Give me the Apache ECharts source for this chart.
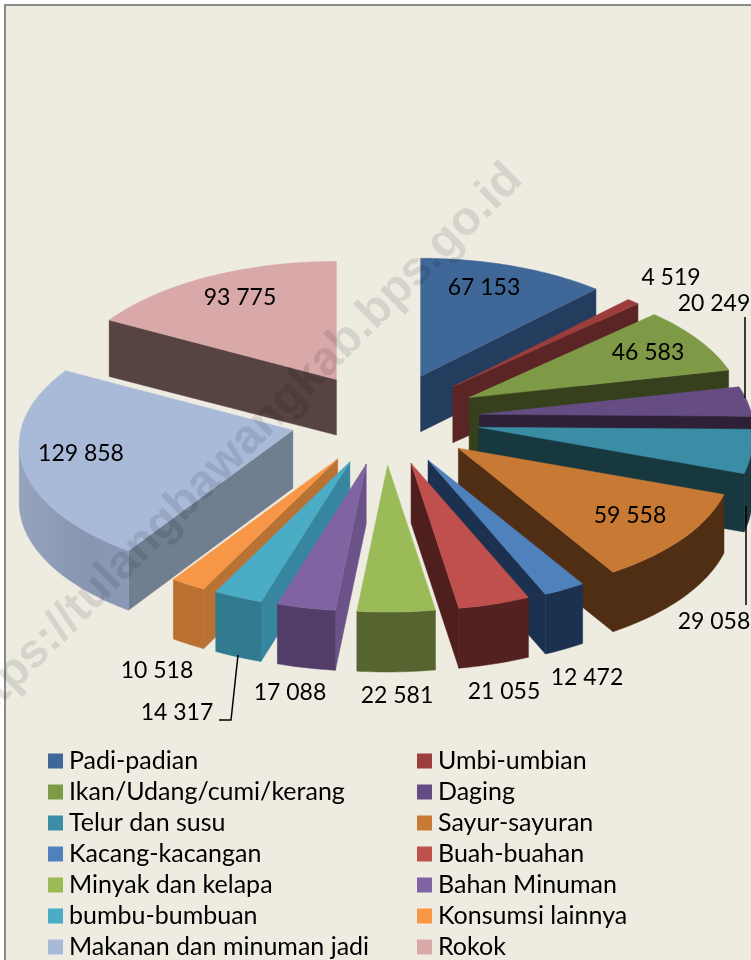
<!DOCTYPE html>
<html>
<head>
<meta charset="utf-8">
<style>
  html, body { margin: 0; padding: 0; background: #fff; }
  #chart { width: 751px; height: 960px; }
</style>
<script src="https://cdn.jsdelivr.net/npm/echarts@6/dist/echarts.min.js"></script>
</head>
<body>
<div id="chart"></div>
<script>
const categories = [
  'Padi-padian', 'Umbi-umbian', 'Ikan/Udang/cumi/kerang', 'Daging',
  'Telur dan susu', 'Sayur-sayuran', 'Kacang-kacangan', 'Buah-buahan',
  'Minyak dan kelapa', 'Bahan Minuman', 'bumbu-bumbuan', 'Konsumsi lainnya',
  'Makanan dan minuman jadi', 'Rokok'
]
const values = [67153, 4519, 46583, 20249, 29058, 59558, 12472, 21055, 22581, 17088, 14317, 10518, 129858, 93775]

const topColors = ['#3f6797', '#9c3d3c', '#7e9a47', '#654d83', '#3b8ca5', '#c87a34', '#4f81bd', '#c0504d', '#9bbb59', '#8064a2', '#4bacc6', '#f79646', '#a9b9d8', '#d9a8a8']
const wallColors = ['#233d5f', '#5a2524', '#37401c', '#2e2037', '#183840', '#502e14', '#1c3150', '#4f1f1e', '#566530', '#6b5389', '#37869f', '#b87233', '#707e90', '#574341']
const rimColors = ['#233d5f', '#5a2524', '#37401c', '#2e2037', '#183840', '#502e14', '#1c3150', '#532120', '#566530', '#513d68', '#327a90', '#bb7032', '#8f9dba', '#574341']
// label centres
const labelCenters = [[484, 288], [671, 278], [648, 353], [714, 304], [714, 622], [630, 516], [587, 678], [504, 692], [397, 696], [290, 693], [177, 713], [157, 671], [81, 454], [240, 298]]
const leaderLines = [
  [[745, 317], [745, 398]],
  [[746, 506], [746, 605]],
  [[238, 655], [231, 720], [219, 720]]
]

const fontFamily = 'Lato'
const total = values.reduce((a, b) => a + b, 0)
const cx = 385
const cy = 419
const explodeX = 95
const explodeY = 46
const radiusX = 272
const radiusY = 131
const perspective = 0.1095
const depth = 57.5
const rad = d => d * Math.PI / 180

const starts = []
values.reduce((acc, v) => {
  starts.push(acc)
  return acc + v
}, 0)

function sliceShapes(i) {
  const a0 = starts[i] / total * 360
  const a1 = (starts[i] + values[i]) / total * 360
  const mid = rad((a0 + a1) / 2)
  const apex = [cx + explodeX * Math.sin(mid), cy - explodeY * Math.cos(mid)]
  const onRim = deg => {
    const X = Math.sin(rad(deg))
    const Y = Math.cos(rad(deg))
    const s = 1 / (1 + perspective * Y)
    return [apex[0] + radiusX * s * X, apex[1] - radiusY * s * Y]
  }
  const down = (p, deg) => [p[0], p[1] + depth / (1 + 0.04 * Math.cos(rad(deg)))]
  const rim = []
  const n = Math.max(2, Math.ceil(a1 - a0))
  for (let k = 0; k <= n; k++) {
    const deg = a0 + (a1 - a0) * k / n
    rim.push({ deg, p: onRim(deg) })
  }
  const first = rim[0]
  const last = rim[rim.length - 1]
  const shapes = []
  const wall = (p, deg, q, qDeg) => ({
    type: 'polygon',
    shape: { points: [p, q, down(q, qDeg), down(p, deg)] },
    style: { fill: wallColors[i], stroke: wallColors[i], lineWidth: 0.5 }
  })
  // faces whose edge runs right to left on screen look at the viewer
  if (first.p[0] < apex[0]) shapes.push(wall(apex, (a0 + a1) / 2, first.p, first.deg))
  if (last.p[0] > apex[0]) shapes.push(wall(apex, (a0 + a1) / 2, last.p, last.deg))
  const visible = rim.filter((r, k) => (k < n && rim[k + 1].p[0] < r.p[0]) || (k === n && rim[k - 1].p[0] > r.p[0]))
  if (visible.length > 1) {
    const upper = visible.map(r => r.p)
    const lower = visible.map(r => down(r.p, r.deg)).reverse()
    // the big slice has a soft shine along its rim
    const fill = i === 12
      ? new echarts.graphic.LinearGradient(0, 0, 1, 0, [
        { offset: 0, color: '#95a3bf' },
        { offset: 0.6, color: '#8896b1' },
        { offset: 1, color: '#8c99b6' }
      ])
      : rimColors[i]
    shapes.push({
      type: 'polygon',
      shape: { points: upper.concat(lower) },
      style: { fill, stroke: rimColors[i], lineWidth: 0.5 }
    })
  }
  shapes.push({
    type: 'polygon',
    shape: { points: [apex].concat(rim.map(r => r.p)) },
    style: { fill: topColors[i], stroke: topColors[i], lineWidth: 0.5 }
  })
  return { apex, shapes }
}

const formatValue = v => String(v).replace(/\B(?=(\d{3})+$)/g, ' ')

const sliceSeries = categories.map((name, i) => ({
  type: 'custom',
  name,
  coordinateSystem: 'none',
  // back slices first, the front ones cover their walls
  z: Math.round(sliceShapes(i).apex[1] - 300),
  silent: true,
  color: topColors[i],
  itemStyle: { color: topColors[i] },
  data: [[values[i]]],
  renderItem: () => ({ type: 'group', children: sliceShapes(i).shapes })
}))

const labelSeries = {
  type: 'custom',
  name: 'labels',
  coordinateSystem: 'none',
  z: 500,
  silent: true,
  data: values.map((v, i) => [v, i]),
  renderItem(params, api) {
    const i = api.value(1)
    return {
      type: 'text',
      x: labelCenters[i][0],
      y: labelCenters[i][1],
      style: {
        text: formatValue(api.value(0)),
        fill: '#000',
        font: '23px ' + fontFamily,
        align: 'center',
        verticalAlign: 'middle'
      }
    }
  }
}

const legendBase = {
  orient: 'vertical',
  top: 747,
  height: 300,
  itemWidth: 15,
  itemHeight: 15,
  itemGap: 3,
  icon: 'rect',
  selectedMode: false,
  padding: 0,
  textStyle: { color: '#000', fontFamily, fontSize: 25, padding: [0, 0, 0, 1], height: 28, lineHeight: 28 }
}

const chart = echarts.init(document.getElementById('chart'), null, { renderer: 'canvas' })
chart.setOption({
  animation: false,
  legend: [
    Object.assign({}, legendBase, { left: 48, data: categories.filter((c, i) => i % 2 === 0) }),
    Object.assign({}, legendBase, { left: 417, data: categories.filter((c, i) => i % 2 === 1) })
  ],
  graphic: [
    {
      type: 'rect',
      z: -10,
      silent: true,
      shape: { x: 5, y: 5, width: 800, height: 1000 },
      style: { fill: '#eeece1', stroke: '#8a8a8a', lineWidth: 2 }
    },
    ...leaderLines.map(points => ({
      type: 'polyline',
      z: 400,
      silent: true,
      shape: { points },
      style: { stroke: '#000', lineWidth: 1.5, fill: null }
    })),
    {
      type: 'text',
      z: 1000,
      silent: true,
      x: 238,
      y: 449,
      rotation: Math.PI / 4,
      style: {
        text: 'https://tulangbawangkab.bps.go.id',
        font: 'bold 47.5px "Liberation Sans"',
        fill: 'rgba(0,0,0,0.1)',
        align: 'center',
        verticalAlign: 'middle'
      }
    }
  ],
  series: sliceSeries.concat(labelSeries)
})
</script>
</body>
</html>
